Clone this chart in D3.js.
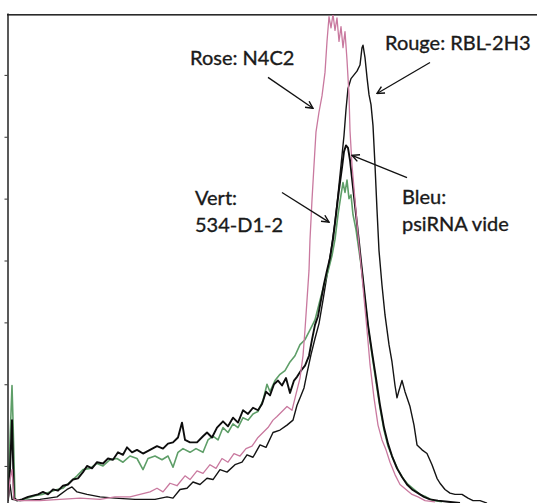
<!DOCTYPE html>
<html>
<head>
<meta charset="utf-8">
<script src="https://cdn.jsdelivr.net/npm/d3@7.9.0/dist/d3.min.js"></script>
<style>
  body { margin: 0; background: #fff; }
  svg { display: block; }
  .lbl { font-family: Lato, "Open Sans", sans-serif; font-size: 20px; fill: #1a1a1a; stroke: #1a1a1a; stroke-width: 0.35px; }
</style>
</head>
<body>
<svg id="chart"></svg>
<script>
// Histogram overlays: [channel, count]
const vert = [[0.5,6],[1.5,55],[2.5,99],[3,71],[4,7],[6.5,6],[10.5,8],[14,10],[17.5,11],[21.5,13],[25,15],[28,16],[31.5,21],[35,26],[38,31],[41.5,32],[45,36],[48,34],[51.5,39],[55,40],[58,37],[61.5,42],[65,40],[68,31],[70.5,40],[74,42],[77.5,39],[80.5,42],[83,33],[85.5,45],[88,48],[91.5,45],[94.5,48],[98,45],[100.5,55],[103,58],[105.5,55],[108,65],[110.5,61],[113,68],[115.5,65],[118,73],[120.5,71],[123,76],[125.5,78],[128,87],[130,100],[131.5,94],[134,103],[136.5,108],[139,111],[141.5,118],[144,123],[146.5,132],[149,136],[151.5,144],[154,152],[156.5,168],[158.5,180],[160.5,191],[162.5,204],[164,217],[165.5,237],[167,253],[168,263],[169,255],[170,265],[171,250],[172,253],[173,237],[174.5,225],[176,208],[177.5,191],[179,168],[180.5,147],[182.5,124],[184.5,102],[186.5,81],[188.5,63],[190.5,50],[193,40],[195.5,31],[198,24],[200.5,19],[203.5,15],[206.5,11],[209.5,9],[213,6],[217.5,5]];

const bleu = [[0.5,6],[1.5,31],[2.5,71],[3.5,8],[5,6],[7.5,7],[10.5,9],[13,10],[15.5,11],[18,13],[20.5,11],[23,15],[25.5,14],[28,18],[30.5,19],[33,23],[35.5,24],[38,29],[40,34],[42.5,32],[45,37],[48,36],[50.5,40],[53,39],[55.5,45],[58,43],[60,49],[62.5,45],[65,47],[68,44],[71.5,47],[75,50],[78,48],[80.5,52],[83,53],[85.5,57],[87.5,69],[89,55],[91.5,53],[95,53],[98,58],[100,61],[102.5,57],[105,65],[108,70],[110.5,66],[113,73],[115.5,69],[118,79],[120.5,76],[123,81],[125.5,79],[127.5,84],[129.5,94],[131.5,91],[133.5,100],[135.5,103],[137.5,99],[139.5,105],[141.5,93],[143.5,103],[145,106],[147,111],[149,115],[151,123],[152.5,136],[154,148],[155.5,155],[157,168],[158.5,181],[160,192],[161.5,202],[163,217],[164.5,237],[166,257],[167.5,275],[168.5,288],[169.5,293],[170.5,291],[171.5,281],[173,259],[174.5,237],[176,215],[177.5,192],[179,170],[180.5,148],[182.5,126],[184.5,105],[186.5,83],[188.5,65],[190.5,52],[192.5,42],[195,32],[197.5,25],[200,19],[202.5,15],[205.5,12],[208.5,9],[211.5,7],[215.5,6],[220.5,5],[226.5,4]];

const rose = [[0.5,6],[1.5,23],[2.5,31],[3.5,7],[6.5,6],[16.5,6],[26.5,7],[36.5,8],[46.5,7],[54,9],[61.5,9],[66.5,11],[71.5,13],[75,16],[78,13],[81.5,20],[85,18],[89,26],[91.5,23],[95,30],[98,28],[101.5,35],[104.5,32],[107.5,40],[110.5,37],[113.5,44],[116.5,42],[119.5,48],[122.5,50],[125.5,57],[128,61],[130.5,65],[133,71],[135,74],[137.5,78],[140,82],[142.5,79],[144.5,92],[146.5,105],[148,123],[149,144],[150,168],[151,192],[151.5,217],[152.5,249],[153.5,277],[154.5,304],[156,320],[157.5,333],[159,352],[160,377],[161,397],[162,388],[163,399],[164,386],[165,396],[166,377],[167,389],[168,372],[169,385],[170,362],[171,334],[171.5,305],[172.5,277],[174,249],[175.5,221],[177,196],[178.5,170],[180,144],[181.5,116],[183.5,89],[185.5,67],[187.5,55],[189.5,47],[191.5,37],[194,27],[196.5,19],[199.5,15],[202.5,11],[205.5,9],[209,6],[214,5]];

const rouge = [[0.5,6],[1.5,19],[2.5,7],[6.5,6],[16.5,7],[25,9],[30,15],[32.5,17],[35,13],[40,11],[46.5,9],[54,8],[64,7],[74,7],[80,9],[83,8],[86.5,15],[90,16],[93,21],[96.5,19],[100,24],[103,23],[106.5,31],[110,29],[114,35],[117.5,37],[120,43],[123,41],[126.5,51],[129.5,49],[133,61],[136.5,63],[140,67],[143,71],[145,83],[147,91],[148.5,97],[150,109],[152,124],[154,137],[156,149],[158,168],[160,188],[162,208],[164,231],[165.5,253],[167,277],[168.5,301],[169.5,322],[170.5,339],[172,347],[173.5,350],[175,353],[176.5,358],[177.5,372],[178,374],[179,364],[180,348],[181,334],[182,326],[183,309],[184,277],[185,241],[186,208],[187.5,180],[189,156],[191,132],[192.5,118],[194,99],[195,89],[196,95],[197.5,103],[199,94],[201.5,82],[203.5,67],[205,51],[207.5,47],[210,44],[212.5,35],[215,24],[216.5,20],[219,15],[221.5,12],[224,11],[227.5,11],[230.5,8],[233,6],[236.5,6],[240,4]];

const tickCounts = [34, 100, 150, 200, 250, 300, 350];

// annotations: label lines at [channel, count], arrows from -> to
const labels = [
  { lines: ["Rose: N4C2"], at: [91.5, 358] },
  { lines: ["Rouge: RBL-2H3"], at: [189, 370] },
  { lines: ["Vert:", "534-D1-2"], at: [94, 245] },
  { lines: ["Bleu:", "psiRNA vide"], at: [197.5, 246] }
];
const arrows = [
  [[130.5, 348], [153, 323]],
  [[211.5, 360], [185, 335]],
  [[137.5, 255], [161, 231]],
  [[200, 267], [172.5, 285]]
];

const W = 537, H = 503;
const svg = d3.select("#chart").attr("width", W).attr("height", H);

const x = d3.scaleLinear().domain([0, 265]).range([7, 537]);
const y = d3.scaleLinear().domain([0, 400]).range([508, 13]);

const defs = svg.append("defs");
defs.append("clipPath").attr("id", "plot")
  .append("rect").attr("x", 8).attr("y", 15).attr("width", W - 8).attr("height", H - 15);

const line = d3.line().x(d => x(d[0])).y(d => y(d[1]));

// top frame
svg.append("rect")
  .attr("x", x(0)).attr("y", 14)
  .attr("width", x(265) - x(0)).attr("height", 1.6)
  .attr("fill", "#2a2a2a");

const series = [
  { data: rouge, color: "#141414", w: 1.4 },
  { data: vert, color: "#5e9e68", w: 1.6 },
  { data: bleu, color: "#0d0d0d", w: 1.9 },
  { data: rose, color: "#c9799f", w: 1.3 }
];

const g = svg.append("g").attr("clip-path", "url(#plot)");
g.selectAll("path")
  .data(series)
  .join("path")
  .attr("d", d => line(d.data))
  .attr("fill", "none")
  .attr("stroke", d => d.color)
  .attr("stroke-width", d => d.w)
  .attr("stroke-linejoin", "round");

// left axis, no labels
svg.append("g")
  .attr("transform", "translate(7.5,0)")
  .call(d3.axisLeft(y).tickValues(tickCounts).tickSize(3).tickSizeOuter(0).tickFormat(""))
  .call(a => a.select(".domain").attr("stroke", "#222").attr("stroke-width", 1.5))
  .call(a => a.selectAll(".tick line").attr("stroke", "#333"));

// arrows
defs.append("marker")
  .attr("id", "head").attr("viewBox", "0 0 10 10")
  .attr("refX", 9).attr("refY", 5)
  .attr("markerWidth", 9).attr("markerHeight", 9)
  .attr("markerUnits", "userSpaceOnUse")
  .attr("orient", "auto")
  .append("path").attr("d", "M1,1L9,5L1,9")
  .attr("fill", "none").attr("stroke", "#111").attr("stroke-width", 1.6);

svg.selectAll(".arrow")
  .data(arrows)
  .join("line")
  .attr("class", "arrow")
  .attr("x1", d => x(d[0][0])).attr("y1", d => y(d[0][1]))
  .attr("x2", d => x(d[1][0])).attr("y2", d => y(d[1][1]))
  .attr("stroke", "#111").attr("stroke-width", 1.3)
  .attr("marker-end", "url(#head)");

// labels
const lab = svg.selectAll(".lbl")
  .data(labels)
  .join("text")
  .attr("class", "lbl")
  .attr("x", d => x(d.at[0]))
  .attr("y", d => y(d.at[1]));
lab.selectAll("tspan")
  .data(d => d.lines.map(t => ({ t, x0: x(d.at[0]) })))
  .join("tspan")
  .attr("x", d => d.x0)
  .attr("dy", (d, i) => i ? 27 : 0)
  .text(d => d.t);
</script>
</body>
</html>
